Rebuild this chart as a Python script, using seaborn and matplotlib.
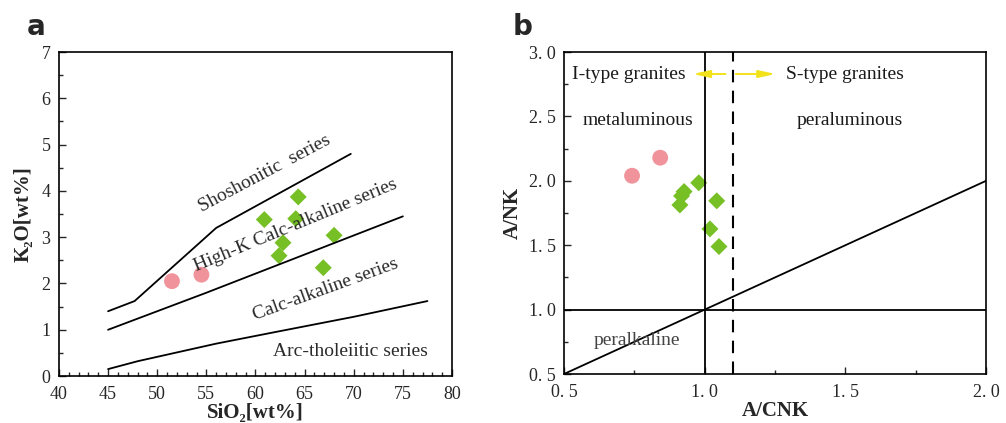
import numpy as np
import pandas as pd
import matplotlib
matplotlib.use("Agg")
import matplotlib.pyplot as plt
import seaborn as sns
from matplotlib.ticker import MultipleLocator

sns.set_style("ticks")
plt.rcParams['font.family'] = ['Liberation Serif', 'DejaVu Serif']

# --- panel a data: SiO2 vs K2O ---
sio2_circ = [51.5, 54.5]
k2o_circ = [2.05, 2.19]
sio2_dia = [60.9, 64.35, 64.1, 62.8, 62.4, 68.0, 66.9]
k2o_dia = [3.38, 3.87, 3.40, 2.88, 2.60, 3.04, 2.34]

# series boundaries
sho_x = [45, 47.7, 56, 69.7]
sho_y = [1.4, 1.62, 3.2, 4.8]
hk_x = [45, 55, 75]
hk_y = [1.0, 1.8, 3.45]
ca_x = [45, 48, 56, 62, 70, 77.5]
ca_y = [0.15, 0.32, 0.70, 0.95, 1.28, 1.62]

# --- panel b data: A/CNK vs A/NK ---
acnk_circ = [0.742, 0.842]
ank_circ = [2.04, 2.18]
acnk_dia = [0.979, 0.927, 0.918, 0.912, 1.043, 1.019, 1.051]
ank_dia = [1.985, 1.917, 1.883, 1.813, 1.845, 1.627, 1.49]

pink = "#F0939B"
green = "#76C025"

fig = plt.figure(figsize=(10.06, 4.23), dpi=100)
ax1 = fig.add_axes([0.0586, 0.111, 0.3907, 0.766])
ax2 = fig.add_axes([0.5606, 0.1158, 0.4195, 0.761])

# panel a
for xs, ys in [(sho_x, sho_y), (hk_x, hk_y), (ca_x, ca_y)]:
    sns.lineplot(x=xs, y=ys, ax=ax1, color="black", lw=1.3, sort=False)
sns.scatterplot(x=sio2_circ, y=k2o_circ, ax=ax1, color=pink, marker="o", s=130, edgecolor="none")
sns.scatterplot(x=sio2_dia, y=k2o_dia, ax=ax1, color=green, marker="D", s=75, edgecolor="none")

ax1.set_xlim(40, 80)
ax1.set_ylim(0, 7)
ax1.xaxis.set_major_locator(MultipleLocator(5))
ax1.xaxis.set_minor_locator(MultipleLocator(1))
ax1.yaxis.set_major_locator(MultipleLocator(1))
ax1.yaxis.set_minor_locator(MultipleLocator(0.5))
ax1.set_xlabel("SiO₂[wt%]", fontsize=15, fontweight="bold", labelpad=0)
ax1.set_ylabel("K₂O[wt%]", fontsize=15, fontweight="bold", labelpad=6)

tkw = dict(color="#2a2a2a", fontsize=14)
ax1.text(60.9, 4.37, "Shoshonitic  series", rotation=28, ha="center", va="center", **tkw)
ax1.text(64.1, 3.26, "High-K Calc-alkaline series", rotation=22.5, ha="center", va="center", **tkw)
ax1.text(67.1, 1.86, "Calc-alkaline series", rotation=20, ha="center", va="center", **tkw)
ax1.text(69.7, 0.53, "Arc-tholeiitic series", ha="center", va="center", **tkw)

# panel b
sns.lineplot(x=[0.5, 2.0], y=[0.5, 2.0], ax=ax2, color="black", lw=1.3)
ax2.axhline(1.0, color="black", lw=1.3)
ax2.axvline(1.0, color="black", lw=1.3)
ax2.axvline(1.1, color="black", lw=1.5, ls=(0, (6, 4)))
sns.scatterplot(x=acnk_circ, y=ank_circ, ax=ax2, color=pink, marker="o", s=130, edgecolor="none")
sns.scatterplot(x=acnk_dia, y=ank_dia, ax=ax2, color=green, marker="D", s=75, edgecolor="none")

ax2.set_xlim(0.5, 2.0)
ax2.set_ylim(0.5, 3.0)
ax2.xaxis.set_minor_locator(MultipleLocator(0.25))
ax2.yaxis.set_minor_locator(MultipleLocator(0.25))
ax2.set_xticks([0.5, 1.0, 1.5, 2.0])
ax2.set_xticklabels(["0. 5", "1. 0", "1. 5", "2. 0"])
ax2.set_yticks([0.5, 1.0, 1.5, 2.0, 2.5, 3.0])
ax2.set_yticklabels(["0. 5", "1. 0", "1. 5", "2. 0", "2. 5", "3. 0"])
ax2.set_xlabel("A/CNK", fontsize=15, fontweight="bold", labelpad=0)
ax2.set_ylabel("A/NK", fontsize=15, fontweight="bold", labelpad=4)

bkw = dict(color="#1a1a1a", fontsize=14)
ax2.text(0.731, 2.83, "I-type granites", ha="center", va="center", **bkw)
ax2.text(1.50, 2.83, "S-type granites", ha="center", va="center", **bkw)
ax2.text(0.763, 2.47, "metaluminous", ha="center", va="center", **bkw)
ax2.text(1.517, 2.47, "peraluminous", ha="center", va="center", **bkw)
ax2.text(0.76, 0.76, "peralkaline", ha="center", va="center", color="#444444", fontsize=14)
arr = dict(arrowstyle="-|>,head_length=1.0,head_width=0.22", color="#F2E21B", lw=1.4)
ax2.annotate("", xy=(0.948, 2.83), xytext=(1.084, 2.83), arrowprops=arr)
ax2.annotate("", xy=(1.262, 2.83), xytext=(1.101, 2.83), arrowprops=arr)

for ax in (ax1, ax2):
    ax.tick_params(which="both", direction="in", labelsize=13, width=1)
    ax.tick_params(which="major", length=5)
    ax.tick_params(which="minor", length=3)
    ax.tick_params(axis="x", which="major", pad=7)
    ax.tick_params(axis="y", which="major", pad=6)
    for sp in ax.spines.values():
        sp.set_linewidth(1.2)
        sp.set_color("black")
    ax.set_facecolor("white")

fig.text(0.027, 0.935, "a", fontsize=20, fontweight="bold", family="DejaVu Sans", ha="left", va="center")
fig.text(0.51, 0.935, "b", fontsize=20, fontweight="bold", family="DejaVu Sans", ha="left", va="center")

fig.savefig("out.png", dpi=100, facecolor="white")
